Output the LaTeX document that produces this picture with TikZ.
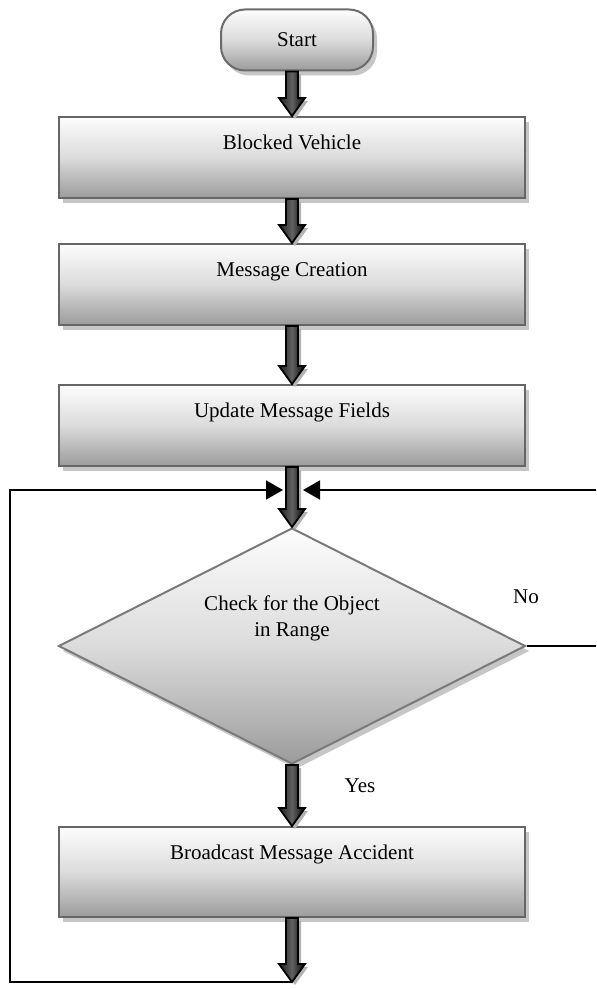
\documentclass[tikz,border=0pt]{standalone}
\usepackage{fontspec}
\setmainfont{Liberation Serif}
\usetikzlibrary{arrows.meta,positioning,calc,shapes.geometric,shadows}

\begin{document}
\begin{tikzpicture}[
  x=0.5pt, y=-0.5pt,
  font=\fontsize{10.5}{13}\selectfont,
  greyfill/.style={top color=gray!2, bottom color=gray!78, middle color=gray!28},
  boxshadow/.style={drop shadow={shadow xshift=2pt, shadow yshift=-2.5pt, fill=gray!45, opacity=1}},
  startbox/.style={draw=black!58, line width=1pt, rounded corners=12pt, greyfill, boxshadow,
                   minimum width=76pt, minimum height=30.5pt},
  procbox/.style={draw=black!60, line width=1pt, greyfill, boxshadow, minimum width=233pt,
                  inner ysep=0pt, text height=16.2pt, text depth=24.3pt},
  decision/.style={diamond, draw=black!52, line width=1pt, greyfill, boxshadow, shape aspect=2,
                   minimum width=233.5pt, minimum height=118pt, inner sep=0pt},
  fatarr/.style={draw=black, line width=0.9pt, left color=black!88, right color=black,
                 middle color=black!62,
                 drop shadow={shadow xshift=1.5pt, shadow yshift=-1.5pt, fill=gray!60, opacity=1},
                 to path={let \p1=(\tikztostart), \p2=(\tikztotarget) in
                   (\x1-3pt,\y1) -- (\x1-3pt,\y2+9pt) -- (\x1-6.5pt,\y2+9pt) -- (\x1,\y2)
                   -- (\x1+6.5pt,\y2+9pt) -- (\x1+3pt,\y2+9pt) -- (\x1+3pt,\y1) -- cycle}},
  thinarr/.style={-{Triangle[length=8.5pt,width=9.5pt]}, line width=0.9pt},
  lbl/.style={inner sep=0pt}
]
\useasboundingbox (0,0) rectangle (596,989);
\clip (0,0) rectangle (596,989);

\node[startbox] (start) at (297,40) {Start};
\node[procbox] (blocked) at (292,157.5) {Blocked Vehicle};
\node[procbox, below=22pt of blocked] (create) {Message Creation};
\node[procbox, below=29pt of create] (update) {Update Message Fields};
\node[decision, below=30pt of update] (check) {};
\node[align=center] (checktxt) at ([yshift=14pt]check.center) {Check for the Object\\in Range};
\node[procbox, below=30.5pt of check, text depth=28.8pt] (broadcast) {Broadcast Message Accident};
\node[lbl] (no) at (526,597) {No};
\node[lbl] (yes) at (360,786) {Yes};

\coordinate (loopend) at (292,982);
\coordinate (mergeL) at (283,490);
\coordinate (mergeR) at (303,490);

\draw[thinarr] (loopend) -- ++(-282,0) |- (mergeL);
\draw[thinarr] (check.east) -- ++(80,0) |- (mergeR);

\path[fatarr] (start.south -| blocked.north) to (blocked.north);
\path[fatarr] (blocked.south) to (create.north);
\path[fatarr] (create.south) to (update.north);
\path[fatarr] (update.south) to (check.north);
\path[fatarr] (check.south) to (broadcast.north);
\path[fatarr] (broadcast.south) to (loopend);
\end{tikzpicture}
\end{document}
